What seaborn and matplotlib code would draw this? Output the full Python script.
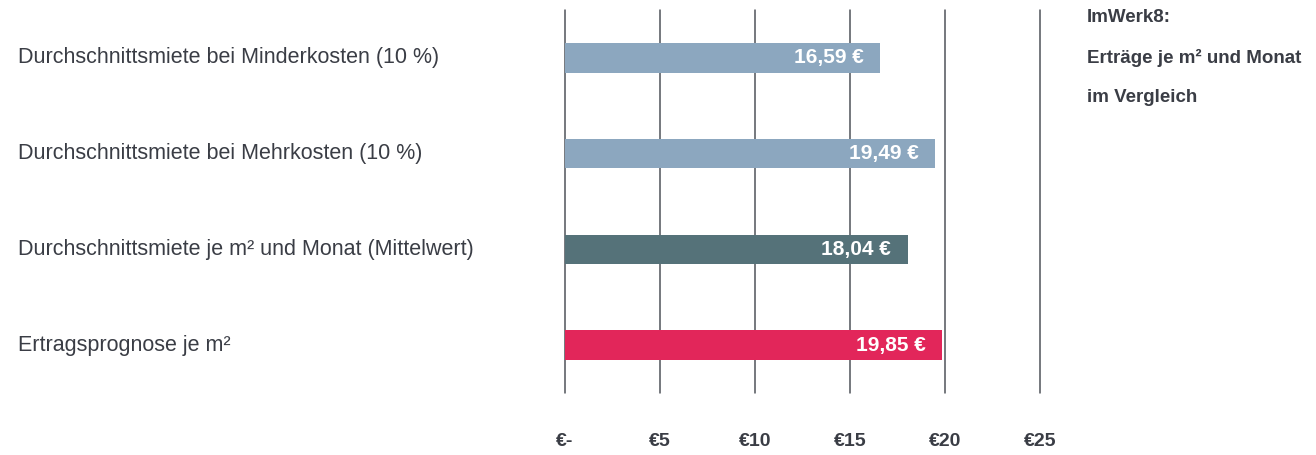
import matplotlib
matplotlib.use("Agg")
import matplotlib.pyplot as plt
import matplotlib.transforms as mtransforms
import seaborn as sns

sns.set_style("white")
plt.rcParams['font.family'] = ['Liberation Sans', 'DejaVu Sans']

categories = [
    "Durchschnittsmiete bei Minderkosten (10 %)",
    "Durchschnittsmiete bei Mehrkosten (10 %)",
    "Durchschnittsmiete je m² und Monat (Mittelwert)",
    "Ertragsprognose je m²",
]
values = [16.59, 19.49, 18.04, 19.85]
value_labels = ["16,59 €", "19,49 €", "18,04 €", "19,85 €"]
colors = ["#8ca7bf", "#8ca7bf", "#557279", "#e2265a"]
ticks = [0, 5, 10, 15, 20, 25]
tick_labels = ["€-", "€5", "€10", "€15", "€20", "€25"]
title_lines = ["ImWerk8:", "Erträge je m² und Monat", "im Vergleich"]

text_color = "#3a3d45"

fig = plt.figure(figsize=(13.16, 4.55), dpi=100)
ax = fig.add_axes([565 / 1316, 1 - 393 / 455, 475 / 1316, 383 / 455])

sns.barplot(x=values, y=categories, hue=categories, palette=colors,
            width=0.31, legend=False, saturation=1, linewidth=0,
            ax=ax, zorder=3)

ax.set_xlim(0, 25)
ax.set_ylim(3.5, -0.5)
for t in ticks:
    ax.axvline(t, color="#50535a", lw=1.1, zorder=1, clip_on=False)

for s in ax.spines.values():
    s.set_visible(False)
ax.set_xticks(ticks)
ax.set_xticklabels(tick_labels, fontsize=14, fontweight="bold", color=text_color)
ax.tick_params(axis="x", length=0, pad=29)
ax.set_yticks([])
ax.set_xlabel("")
ax.set_ylabel("")

# category labels on the far left
trans = mtransforms.blended_transform_factory(fig.transFigure, ax.transData)
for i, cat in enumerate(categories):
    ax.text(18 / 1316, i, cat, transform=trans, ha="left", va="center",
            fontsize=15.5, color=text_color)

# value labels inside bars
for i, (v, lab) in enumerate(zip(values, value_labels)):
    ax.annotate(lab, (v, i), xytext=(-12, 0), textcoords="offset points",
                ha="right", va="center", fontsize=15, fontweight="bold",
                color="white", zorder=4)

for k, line in enumerate(title_lines):
    fig.text(1087 / 1316, 1 - (18 + 39.5 * k) / 455, line, ha="left", va="center",
             fontsize=13.5, fontweight="bold", color=text_color)

fig.savefig("out.png", dpi=100)
